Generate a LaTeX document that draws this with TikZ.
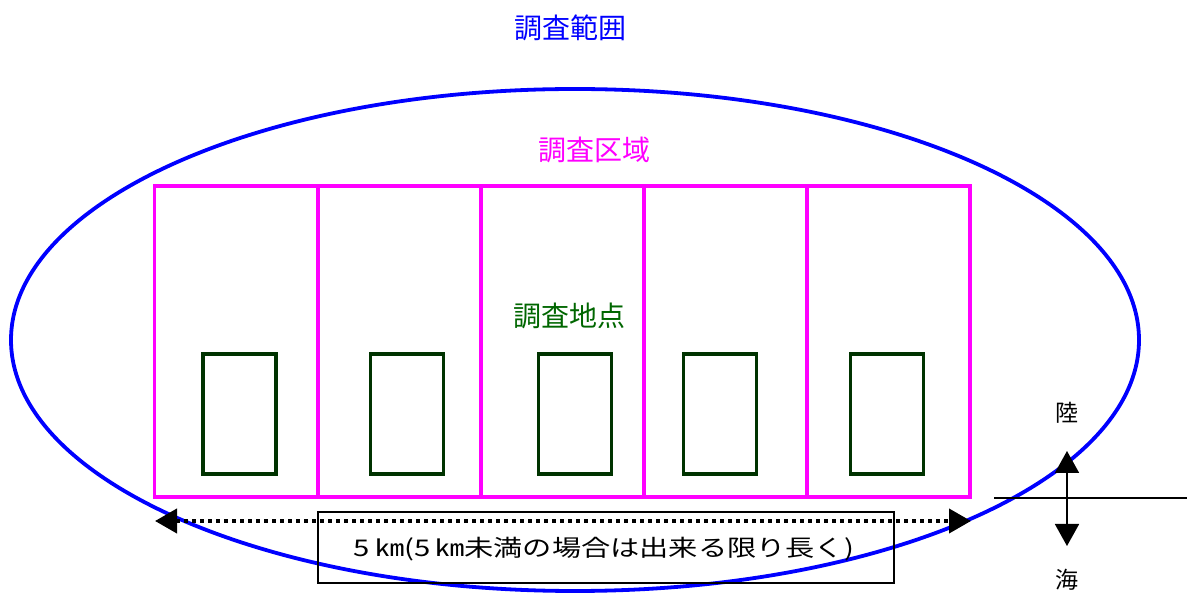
\documentclass[tikz,border=0pt]{standalone}
\usepackage{fontspec}
\setmainfont{Noto Sans CJK JP}
\usetikzlibrary{arrows.meta}
\definecolor{zblue}{HTML}{0000FF}
\definecolor{zmag}{HTML}{FF00FF}
\definecolor{zgreen}{HTML}{003300}
\definecolor{zgtext}{HTML}{006600}
\tikzset{
  cell/.style={draw=zmag, line width=3.8pt, minimum width=163pt, minimum height=311pt, inner sep=0pt},
  site/.style={draw=zgreen, line width=3.5pt, minimum width=73pt, minimum height=120pt, inner sep=0pt},
  lbl/.style={font=\fontsize{28}{30}\selectfont, inner sep=0pt},
  small/.style={font=\fontsize{23}{25}\selectfont, inner sep=0pt},
  bigtip/.style={-{Triangle[length=22pt,width=24pt]}},
}
\begin{document}
\begin{tikzpicture}[x=1pt,y=-1pt]
\useasboundingbox (0,0) rectangle (1187,593);
% survey range ellipse
\draw[zblue, line width=3.8pt] (575,340) ellipse [x radius=564, y radius=251];
\node[lbl, text=zblue] (range) at (570,28) {調査範囲};
% survey zone cells
\node[cell] (c1) at (236,341.5) {};
\node[cell] (c2) at (399.5,341.5) {};
\node[cell] (c3) at (562.5,341.5) {};
\node[cell] (c4) at (725.5,341.5) {};
\node[cell] (c5) at (888.5,341.5) {};
\node[lbl, text=zmag] (zone) at (594,150) {調査区域};
% survey sites
\node[site] (s1) at (239.5,414) {};
\node[site] (s2) at (407,414) {};
\node[site] (s3) at (575,414) {};
\node[site] (s4) at (720,414) {};
\node[site] (s5) at (887,414) {};
\node[lbl, text=zgtext] (point) at (569,316) {調査地点};
% length box
\node[draw, line width=1.8pt, minimum width=576pt, minimum height=71pt, inner sep=0pt] (len) at (606,547.5) {};
\node[small] (lentext) at (604,549) {\scalebox{1.27}[1]{5\,㎞(5\,㎞未満の場合は出来る限り長く)}};
% dotted double arrow
\coordinate (dl) at (155,521);
\coordinate (dr) at (971,521);
\draw[line width=4pt, dash pattern=on 4pt off 4pt, {Triangle[length=22pt,width=24pt]}-{Triangle[length=22pt,width=24pt]}] (dl) -- (dr);
% land/sea
\coordinate (shl) at (994,498);
\coordinate (shr) at (1187,498);
\draw[line width=1.8pt] (shl) -- (shr);
\node[small] (land) at (1067,413) {陸};
\node[small] (sea) at (1067,580) {海};
\coordinate (mid) at (1067,498);
\coordinate (up) at (1067,451);
\coordinate (dn) at (1067,546);
\draw[line width=1.8pt, bigtip] (mid) -- (up);
\draw[line width=1.8pt, bigtip] (mid) -- (dn);
\end{tikzpicture}
\end{document}
